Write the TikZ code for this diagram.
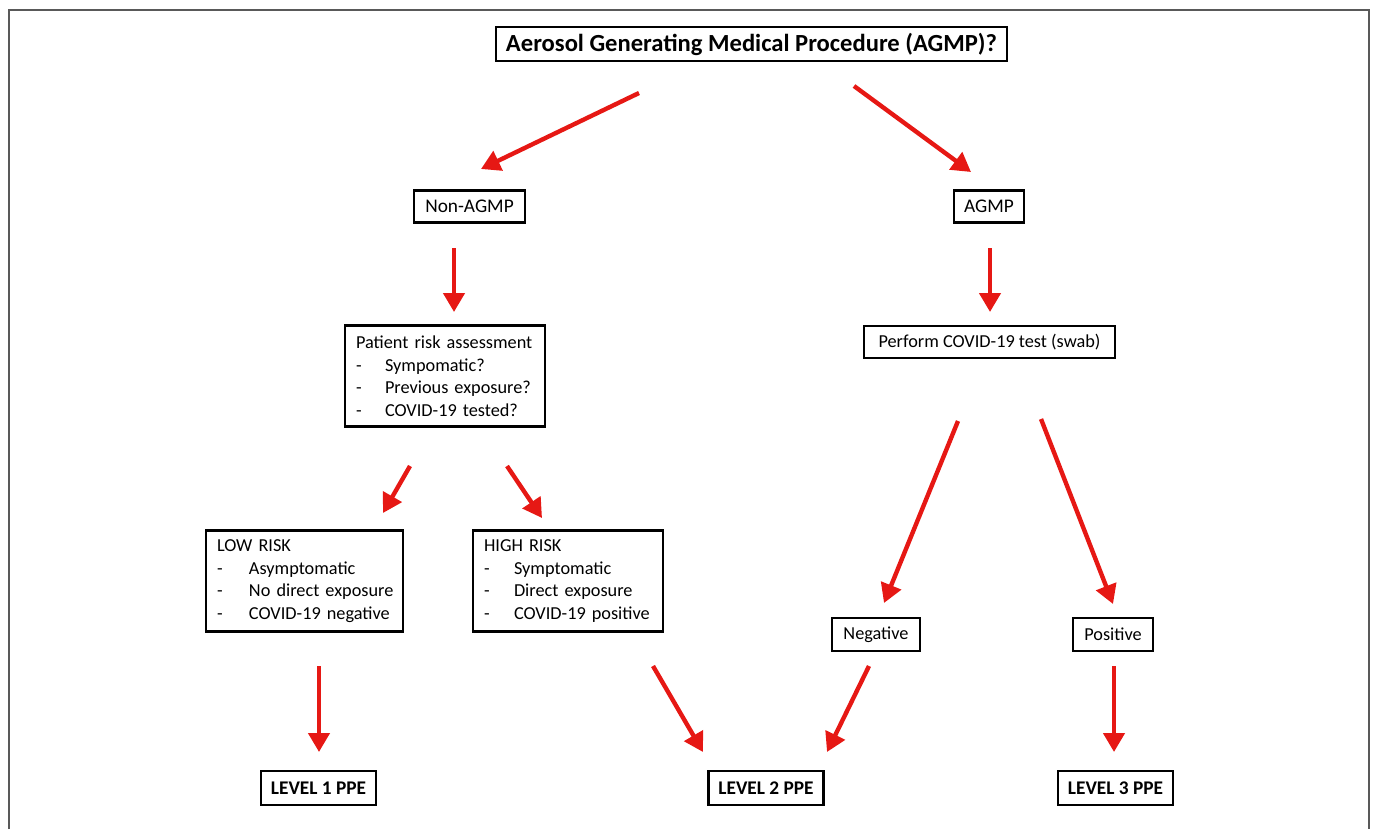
\documentclass[tikz,border=0pt]{standalone}
\usepackage{fontspec}
\setmainfont{Carlito}
\usetikzlibrary{arrows.meta, positioning, calc}
\definecolor{flowred}{RGB}{230,24,20}
\newcommand{\dashitem}[2][0.58cm]{\mbox{\makebox[#1][l]{-}#2}}

\begin{document}
\begin{tikzpicture}[x=0.02cm, y=-0.02cm,
    box/.style={draw, line width=1.3pt, inner xsep=0.2cm, minimum height=0.64cm,
                font=\fontsize{10.4}{12.5}\selectfont},
    headbox/.style={box, minimum width=10.14cm, font=\fontsize{14}{16}\selectfont\bfseries},
    listbox/.style={box, align=left, inner xsep=0.22cm, minimum height=2.02cm,
                    font=\fontsize{10.4}{12.8}\selectfont},
    ppe/.style={box, minimum width=2.22cm, minimum height=0.68cm,
                font=\fontsize{11}{13}\selectfont\bfseries},
    arr/.style={-{Triangle[length=0.38cm, width=0.42cm]}, line width=2.5pt, flowred}
]
\useasboundingbox (0,0) rectangle (1375,829);
\draw[gray!70!black, line width=0.8pt] (9,829) |- (1369,10) -- (1369,829);

\node[headbox] (agmpq) at (751.5, 44)   {Aerosol Generating Medical Procedure (AGMP)?};
\node[box, minimum width=2.22cm, font=\fontsize{11}{13}\selectfont] (nonagmp) at (469.5, 206.5) {Non-AGMP};
\node[box, minimum width=1.36cm, font=\fontsize{11}{13}\selectfont] (agmp)    at (989, 206.5)   {AGMP};
\node[listbox, text width=3.56cm] (assess) at (445, 376)
    {Patient risk assessment\\ \dashitem{Sympomatic?}\\ \dashitem{Previous exposure?}\\ \dashitem{COVID-19 tested?}};
\node[box, minimum width=5.02cm] (swab)    at (989.5, 342)   {Perform COVID-19 test (swab)};
\node[listbox, text width=3.5cm] (low)     at (304.5, 581)
    {LOW RISK\\ \dashitem[0.64cm]{Asymptomatic}\\ \dashitem[0.64cm]{No direct exposure}\\ \dashitem[0.64cm]{COVID-19 negative}};
\node[listbox, text width=3.36cm] (high)   at (568, 581)
    {HIGH RISK\\ \dashitem[0.6cm]{Symptomatic}\\ \dashitem[0.6cm]{Direct exposure}\\ \dashitem[0.6cm]{COVID-19 positive}};
\node[box, minimum width=1.76cm, minimum height=0.66cm] (neg) at (876, 634.5)  {Negative};
\node[box, minimum width=1.6cm, minimum height=0.66cm]  (pos) at (1113, 634.5) {Positive};
\node[ppe] (lvl1) at (318.5, 788)  {LEVEL 1 PPE};
\node[ppe] (lvl2) at (766, 788)    {LEVEL 2 PPE};
\node[ppe] (lvl3) at (1115.5, 788) {LEVEL 3 PPE};

% arrow ends
\coordinate (qL)   at (639, 93);   \coordinate (nonT)  at (481, 169);
\coordinate (qR)   at (854, 86);   \coordinate (agmpT) at (971, 172);
\coordinate (nonB) at (454, 248);  \coordinate (assT)  at (454, 312);
\coordinate (agmpB) at (990, 248); \coordinate (swabT) at (990, 312);
\coordinate (assL) at (410, 466);  \coordinate (lowT)  at (383, 513);
\coordinate (assR) at (507, 466);  \coordinate (highT) at (542, 518);
\coordinate (swabL) at (958, 421); \coordinate (negT)  at (884, 603);
\coordinate (swabR) at (1041, 419); \coordinate (posT) at (1113, 604);
\coordinate (lowB) at (319, 666);  \coordinate (l1T)   at (319, 752);
\coordinate (highB) at (653, 666); \coordinate (l2L)   at (703, 752);
\coordinate (negB) at (869, 666);  \coordinate (l2R)   at (827, 752);
\coordinate (posB) at (1114, 666); \coordinate (l3T)   at (1114, 752);

\draw[arr] (qL)    -- (nonT);
\draw[arr] (qR)    -- (agmpT);
\draw[arr] (nonB)  -- (assT);
\draw[arr] (agmpB) -- (swabT);
\draw[arr] (assL)  -- (lowT);
\draw[arr] (assR)  -- (highT);
\draw[arr] (swabL) -- (negT);
\draw[arr] (swabR) -- (posT);
\draw[arr] (lowB)  -- (l1T);
\draw[arr] (highB) -- (l2L);
\draw[arr] (negB)  -- (l2R);
\draw[arr] (posB)  -- (l3T);
\end{tikzpicture}
\end{document}
